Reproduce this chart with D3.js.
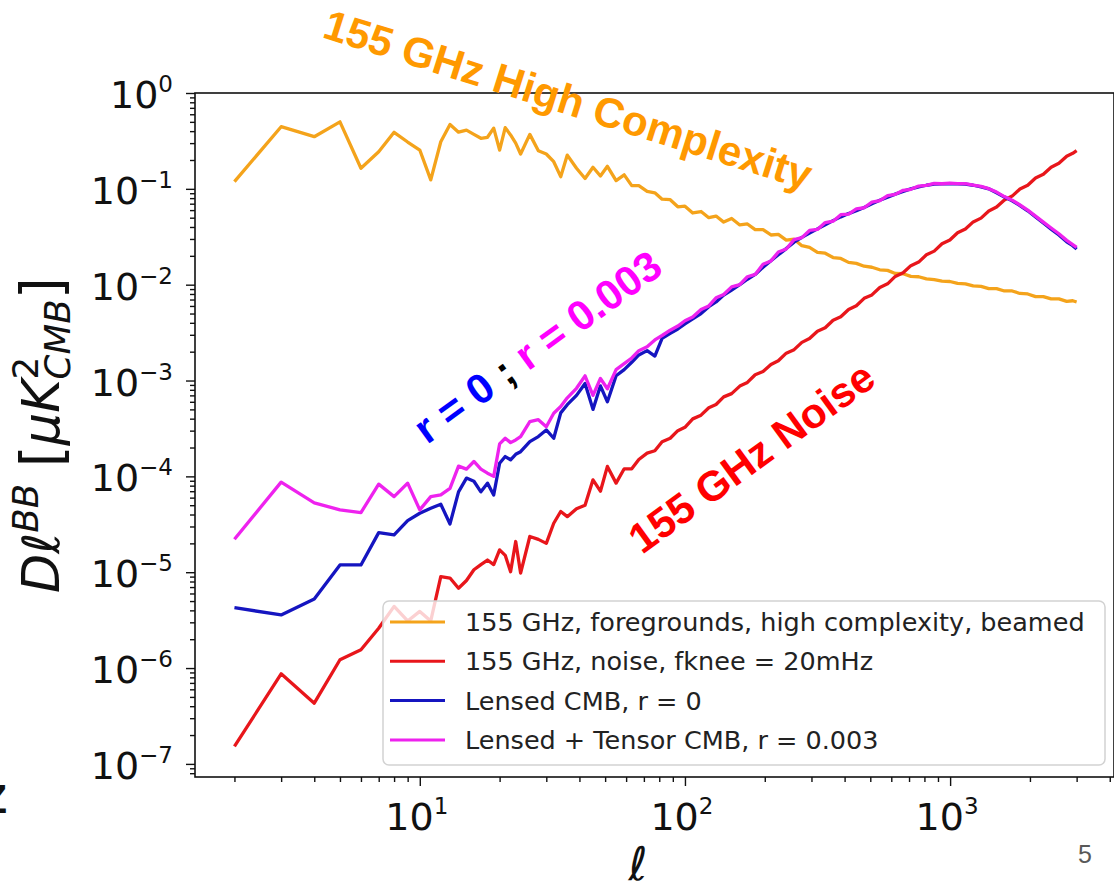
<!DOCTYPE html>
<html>
<head>
<meta charset="utf-8">
<script src="https://cdn.jsdelivr.net/npm/d3@7"></script>
<style>
  body { margin: 0; background: #fff; }
  svg { display: block; }
</style>
</head>
<body>
<svg id="chart" width="1114" height="892"></svg>
<script>
// multipole grid shared by all four spectra
const ells = [2,3,4,5,6,7,8,9,10,11,12,13,14,15,16,17,18,19,20,
  21,22,23,24,26,28,30,32,34,36,
  39,42,45,48,51,55,59,63,67,72,
  77,82,88,94,100,107,115,123,131,140,
  150,161,172,184,197,211,225,241,258,276,
  295,316,338,362,387,414,443,474,507,543,
  581,621,665,711,761,814,871,932,998,1067,
  1142,1222,1308,1399,1497,1602,1714,1834,1962,2100,
  2247,2404,2572,2752,2900,3000];

// 155 GHz foregrounds, high complexity, beamed
const foreground = [0.119,0.445,0.35,0.50,0.164,0.244,0.389,0.308,0.254,0.124,0.31,0.47,0.39,0.41,0.37,0.337,0.345,0.43,0.254,
  0.435,0.365,0.30,0.231,0.37,0.25,0.231,0.192,0.134,0.225,
  0.164,0.128,0.168,0.136,0.172,0.122,0.14,0.108,0.108,0.094,
  0.091,0.078,0.077,0.065,0.066,0.056,0.058,0.050,0.052,0.045,
  0.049,0.042,0.043,0.0375,0.0375,0.033,0.0335,0.0292,0.0298,0.0255,
  0.0245,0.0217,0.0213,0.0192,0.0188,0.0171,0.0167,0.0156,0.0152,0.0143,
  0.0141,0.0131,0.0130,0.0122,0.0121,0.0115,0.0113,0.0109,0.0108,0.0103,
  0.0102,0.0097,0.0096,0.0091,0.0091,0.0086,0.0086,0.0081,0.0080,0.0075,
  0.0075,0.0071,0.0071,0.0067,0.0068,0.0066];

// 155 GHz noise, fknee = 20mHz
const noise = [1.52e-7,8.7e-7,4.3e-7,1.22e-6,1.55e-6,2.6e-6,4.4e-6,3.1e-6,3.9e-6,3.1e-6,9.0e-6,8.7e-6,6.8e-6,8.2e-6,1.06e-5,1.2e-5,1.34e-5,1.2e-5,1.71e-5,
  1.5e-5,1.01e-5,2.09e-5,9.8e-6,2.36e-5,2.2e-5,2.0e-5,3.24e-5,4.3e-5,3.8e-5,
  4.6e-5,5.0e-5,9.2e-5,7.0e-5,1.27e-4,8.5e-5,1.2e-4,1.2e-4,1.5e-4,1.75e-4,
  1.85e-4,2.3e-4,2.5e-4,3.0e-4,3.25e-4,3.98e-4,4.35e-4,5.2e-4,5.62e-4,6.75e-4,
  7.3e-4,8.75e-4,9.55e-4,1.15e-3,1.24e-3,1.47e-3,1.61e-3,1.93e-3,2.10e-3,2.5e-3,
  2.74e-3,3.27e-3,3.55e-3,4.25e-3,4.62e-3,5.5e-3,6.02e-3,7.2e-3,7.82e-3,9.35e-3,
  0.0102,0.0122,0.0133,0.0158,0.0172,0.0205,0.0224,0.0267,0.0293,0.0348,
  0.0381,0.0452,0.0495,0.0588,0.0645,0.0765,0.0840,0.0995,0.109,0.130,
  0.142,0.168,0.185,0.219,0.235,0.25];

// Lensed CMB, r = 0
const lensed = [4.27e-6,3.58e-6,5.26e-6,1.19e-5,1.19e-5,2.59e-5,2.45e-5,3.46e-5,4.12e-5,4.65e-5,5.12e-5,3.19e-5,6.9e-5,9.6e-5,8.9e-5,6.9e-5,8.5e-5,6.4e-5,1.37e-4,
  1.61e-4,1.49e-4,1.7e-4,1.81e-4,2.3e-4,2.6e-4,3.05e-4,2.5e-4,4.6e-4,5.6e-4,
  7.0e-4,9.3e-4,5.0e-4,8.8e-4,6.0e-4,1.12e-3,1.3e-3,1.55e-3,1.85e-3,2.05e-3,
  1.8e-3,2.75e-3,3.1e-3,3.45e-3,3.9e-3,4.4e-3,5.0e-3,5.9e-3,6.6e-3,7.8e-3,
  8.8e-3,0.0100,0.0114,0.0128,0.0152,0.0178,0.0205,0.0238,0.0278,0.0312,
  0.0345,0.0382,0.0422,0.0466,0.051,0.0552,0.059,0.064,0.070,0.076,
  0.082,0.088,0.094,0.100,0.105,0.109,0.112,0.113,0.113,0.113,
  0.112,0.109,0.105,0.100,0.091,0.082,0.075,0.067,0.059,0.051,
  0.044,0.038,0.033,0.028,0.0255,0.0235];

// Lensed + Tensor CMB, r = 0.003
const tensor = [2.21e-5,8.7e-5,5.3e-5,4.47e-5,4.19e-5,8.3e-5,6.15e-5,8.5e-5,4.47e-5,6.15e-5,6.4e-5,7.5e-5,1.28e-4,1.19e-4,1.43e-4,1.19e-4,1.08e-4,1.0e-4,2.18e-4,
  2.5e-4,2.25e-4,2.4e-4,2.6e-4,3.72e-4,3.9e-4,3.3e-4,4.56e-4,5.35e-4,6.6e-4,
  8.3e-4,1.12e-3,7.0e-4,1.05e-3,8.2e-4,1.3e-3,1.5e-3,1.72e-3,2.05e-3,2.25e-3,
  2.65e-3,2.95e-3,3.35e-3,3.7e-3,4.2e-3,4.6e-3,5.5e-3,6.0e-3,7.3e-3,7.9e-3,
  9.5e-3,0.0100,0.0121,0.0128,0.0163,0.0177,0.0219,0.0236,0.0295,0.0310,
  0.0368,0.0377,0.0445,0.0460,0.0538,0.0545,0.0618,0.0635,0.0728,0.0755,
  0.0850,0.0875,0.0965,0.0990,0.1070,0.1085,0.1140,0.1130,0.1150,0.1135,
  0.1135,0.1095,0.1060,0.1005,0.0925,0.0830,0.0762,0.0678,0.0600,0.0520,
  0.0450,0.0390,0.0340,0.0290,0.0262,0.0245];

const legendLabels = [
  "155 GHz, foregrounds, high complexity, beamed",
  "155 GHz, noise, fknee = 20mHz",
  "Lensed CMB, r = 0",
  "Lensed + Tensor CMB, r = 0.003"
];
const yTickExps = [0, -1, -2, -3, -4, -5, -6, -7];
const xTickExps = [1, 2, 3];

const colors = ["#f4a31b", "#e8161b", "#1515c0", "#ee22ee"];
const series = [foreground, noise, lensed, tensor];

const svg = d3.select("#chart");
const plotLeft = 195, plotRight = 1114, plotTop = 93, plotBottom = 777;

const x = d3.scaleLog().domain([1.42, 4150]).range([plotLeft, plotRight]);
const y = d3.scaleLog().domain([7.3e-8, 1]).range([plotBottom, plotTop]);

svg.append("rect").attr("width", 1114).attr("height", 892).attr("fill", "#fff");

svg.append("defs").append("clipPath").attr("id", "plot-clip")
  .append("rect").attr("x", plotLeft).attr("y", plotTop)
  .attr("width", plotRight - plotLeft).attr("height", plotBottom - plotTop);

// minor ticks at 2..9 x 10^k
const yMinor = [];
for (let e = -8; e < 0; e++) for (let m = 2; m < 10; m++) {
  const v = m * Math.pow(10, e);
  if (v > y.domain()[0] && v < 1) yMinor.push(v);
}
const xMinor = [];
for (let e = 0; e < 4; e++) for (let m = 2; m < 10; m++) {
  const v = m * Math.pow(10, e);
  if (v > x.domain()[0] && v < x.domain()[1]) xMinor.push(v);
}

function styleAxis(sel) {
  sel.select(".domain").remove();
  sel.selectAll("line").attr("stroke", "#111").attr("stroke-width", 1.4);
}

svg.append("g").attr("transform", "translate(" + plotLeft + ",0)")
  .call(d3.axisLeft(y).tickValues(yTickExps.map(e => Math.pow(10, e))).tickSize(9).tickFormat(""))
  .call(styleAxis);
svg.append("g").attr("transform", "translate(" + plotLeft + ",0)")
  .call(d3.axisLeft(y).tickValues(yMinor).tickSize(5).tickFormat(""))
  .call(styleAxis);
svg.append("g").attr("transform", "translate(0," + plotBottom + ")")
  .call(d3.axisBottom(x).tickValues(xTickExps.map(e => Math.pow(10, e))).tickSize(9).tickFormat(""))
  .call(styleAxis);
svg.append("g").attr("transform", "translate(0," + plotBottom + ")")
  .call(d3.axisBottom(x).tickValues(xMinor).tickSize(5).tickFormat(""))
  .call(styleAxis);

// power-of-ten tick labels
const tickFont = "'DejaVu Sans', sans-serif";
function expText(e) { return (e < 0 ? "\u2212" : "") + Math.abs(e); }

const yLab = svg.append("g").selectAll("text").data(yTickExps).join("text")
  .attr("x", plotLeft - 22).attr("y", e => y(Math.pow(10, e)) + 15)
  .attr("text-anchor", "end").attr("font-family", tickFont)
  .attr("font-size", 38).attr("fill", "#111");
yLab.append("tspan").text("10");
yLab.append("tspan").attr("dy", -16).attr("font-size", 23).text(e => expText(e));

const xLab = svg.append("g").selectAll("text").data(xTickExps).join("text")
  .attr("x", e => x(Math.pow(10, e)) - 3).attr("y", 830)
  .attr("text-anchor", "middle").attr("font-family", tickFont)
  .attr("font-size", 38).attr("fill", "#111");
xLab.append("tspan").text("10");
xLab.append("tspan").attr("dy", -16).attr("font-size", 23).text(e => expText(e));

// spectra
const line = d3.line()
  .x((d, i) => x(ells[i]))
  .y(d => y(d));

const plot = svg.append("g").attr("clip-path", "url(#plot-clip)");
series.forEach((s, i) => {
  plot.append("path")
    .datum(s)
    .attr("fill", "none")
    .attr("stroke", colors[i])
    .attr("stroke-width", 3.3)
    .attr("stroke-linejoin", "round")
    .attr("d", line);
});

// frame
svg.append("rect").attr("x", plotLeft).attr("y", plotTop)
  .attr("width", plotRight - plotLeft).attr("height", plotBottom - plotTop)
  .attr("fill", "none").attr("stroke", "#111").attr("stroke-width", 1.6);

// legend
const lg = svg.append("g").attr("transform", "translate(383,601)");
lg.append("rect").attr("width", 722).attr("height", 164).attr("rx", 6)
  .attr("fill", "#fff").attr("fill-opacity", 0.8)
  .attr("stroke", "#d2d2d2").attr("stroke-width", 1.5);
legendLabels.forEach((lab, i) => {
  const cy = 21 + i * 39.3;
  lg.append("line").attr("x1", 7).attr("x2", 62).attr("y1", cy).attr("y2", cy)
    .attr("stroke", colors[i]).attr("stroke-width", 3);
  lg.append("text").attr("x", 82).attr("y", cy).attr("dy", "0.36em")
    .attr("font-family", tickFont).attr("font-size", 25.5).attr("fill", "#222")
    .text(lab);
});

// y label: D_ell^BB [mu K^2_CMB], mathtext-like
function mathLabel(g, parts, size) {
  let cx = 0, start = 0;
  parts.forEach(p => {
    const fs = size * (p.scale || 1);
    const t = g.append("text")
      .attr("x", p.back ? start : cx)
      .attr("y", -(p.shift || 0) * size)
      .attr("font-family", tickFont)
      .attr("font-style", p.it ? "italic" : "normal")
      .attr("font-size", fs).attr("fill", "#111")
      .text(p.t);
    const w = t.node().getComputedTextLength();
    if (p.back) { cx = Math.max(cx, start + w); }
    else { start = cx; cx += w; }
  });
  return cx;
}
const yl = svg.append("g");
const ylWidth = mathLabel(yl, [
  { t: "D", it: true }, { t: "\u2113", it: true },
  { t: "BB", it: true, scale: 0.7, shift: 0.42 },
  { t: "\u00a0" },
  { t: "[", scale: 1.12, shift: -0.04 }, { t: "\u03bcK", it: true },
  { t: "2", scale: 0.7, shift: 0.42 },
  { t: "CMB", it: true, scale: 0.7, shift: -0.22, back: true },
  { t: "]", scale: 1.12, shift: -0.04 }
], 51);
yl.attr("transform", "translate(59," + ((plotTop + plotBottom) / 2 + ylWidth / 2) + ") rotate(-90)");

svg.append("text").attr("x", 638).attr("y", 880).attr("text-anchor", "middle")
  .attr("font-family", tickFont).attr("font-style", "italic").attr("font-size", 46)
  .attr("fill", "#111").text("\u2113");

// annotations
const annFont = "'Liberation Sans', Arial, sans-serif";
svg.append("text").attr("transform", "translate(321,37) rotate(17.5)")
  .attr("font-family", annFont).attr("font-weight", "bold").attr("font-size", 42)
  .attr("fill", "#ff9900").text("155 GHz High Complexity");

const rt = svg.append("text").attr("transform", "translate(427,445) rotate(-36)")
  .attr("font-family", annFont).attr("font-weight", "bold").attr("font-size", 42);
rt.append("tspan").attr("fill", "#0000ff").text("r = 0 ");
rt.append("tspan").attr("fill", "#000").text("; ");
rt.append("tspan").attr("fill", "#ff00ff").text("r = 0.003");

svg.append("text").attr("transform", "translate(642,555) rotate(-36)")
  .attr("font-family", annFont).attr("font-weight", "bold").attr("font-size", 42)
  .attr("fill", "#ff0000").text("155 GHz Noise");

// slide leftovers
svg.append("text").attr("x", 1085).attr("y", 863).attr("text-anchor", "middle")
  .attr("font-family", annFont).attr("font-size", 25).attr("fill", "#595959").text("5");
svg.append("text").attr("x", 7).attr("y", 813).attr("text-anchor", "end")
  .attr("font-family", annFont).attr("font-weight", "bold").attr("font-size", 40)
  .attr("fill", "#111").text("Z");
</script>
</body>
</html>
